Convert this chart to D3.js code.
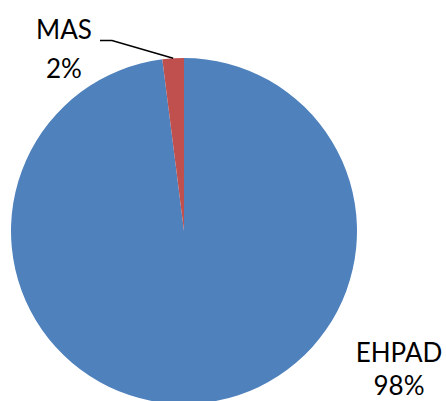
<!DOCTYPE html>
<html><head><meta charset="utf-8">
<script src="https://cdn.jsdelivr.net/npm/d3@7"></script>
<style>body{margin:0;background:#fff}svg{display:block}</style>
</head><body>
<svg id="c" width="446" height="401"></svg>
<script>
const categories = ["EHPAD", "MAS"];
const values = [98, 2];
const pctLabels = ["98%", "2%"];
const colors = ["#4F81BD", "#C0504D"];

const svg = d3.select("#c");
const cx = 184, cy = 231, r = 173;
const pie = d3.pie().sort(null).value(d => d)(values);
const arc = d3.arc().innerRadius(0).outerRadius(r);
const g = svg.append("g").attr("transform", `translate(${cx},${cy})`);
g.selectAll("path").data(pie).join("path")
  .attr("d", arc).attr("fill", (d, i) => colors[i]);

// leader line for MAS
const mas = pie[1];
const midA = (mas.startAngle + mas.endAngle) / 2;
const px = cx + Math.sin(midA) * r, py = cy - Math.cos(midA) * r;
svg.append("path")
  .attr("d", `M100,40.5 L112,40.5 L${px},${py}`)
  .attr("fill", "none").attr("stroke", "#000").attr("stroke-width", 1.5);

const labelPos = [{x: 399, y1: 362, y2: 395}, {x: 64, y1: 39, y2: 78}];
const font = "Lato, 'Open Sans', sans-serif";
categories.forEach((c, i) => {
  const t = svg.append("text").attr("text-anchor", "middle")
    .attr("font-family", font).attr("font-size", 26).attr("fill", "#000");
  t.append("tspan").attr("x", labelPos[i].x).attr("y", labelPos[i].y1).text(c);
  t.append("tspan").attr("x", labelPos[i].x).attr("y", labelPos[i].y2).text(pctLabels[i]);
});
</script>
</body></html>
